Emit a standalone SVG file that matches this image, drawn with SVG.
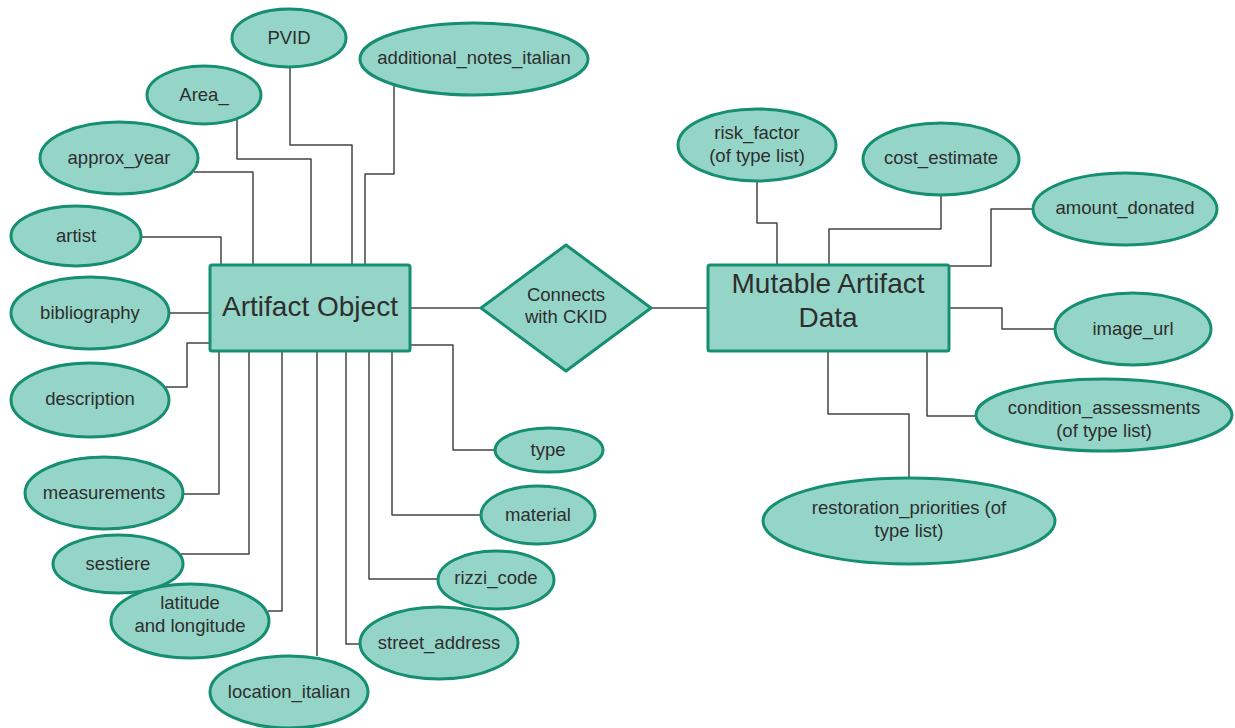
<svg xmlns="http://www.w3.org/2000/svg" width="1235" height="728" viewBox="0 0 1235 728">
<style>
.n{fill:#95d5c8;stroke:#168f70;stroke-width:3}
.t{font-family:"Liberation Sans",Arial,sans-serif;font-size:18.5px;fill:#2e2e2e;text-anchor:middle;dominant-baseline:central}
.big{font-size:28px}
.c{fill:none;stroke:#444;stroke-width:1.5;stroke-linejoin:round}
</style>
<rect width="1235" height="728" fill="#fff"/>
<g id="connectors">
<polyline class="c" points="237,118 237,159 311,159 311,265"/>
<polyline class="c" points="290,67 290,145 352,145 352,265"/>
<polyline class="c" points="394,86 394,174 365,174 365,265"/>
<polyline class="c" points="194,172 253,172 253,265"/>
<polyline class="c" points="141,237 221,237 221,265"/>
<polyline class="c" points="170,313 210,313"/>
<polyline class="c" points="165,387 187,387 187,343 210,343"/>
<polyline class="c" points="183,494 219,494 219,351"/>
<polyline class="c" points="181,554 249,554 249,351"/>
<polyline class="c" points="268,611 282,611 282,351"/>
<polyline class="c" points="317,351 317,656"/>
<polyline class="c" points="346,351 346,644 360,644"/>
<polyline class="c" points="369,351 369,579 438,579"/>
<polyline class="c" points="392,351 392,515 481,515"/>
<polyline class="c" points="410,345 453,345 453,450 495,450"/>
<polyline class="c" points="410,308 481,308"/>
<polyline class="c" points="651,308 708,308"/>
<polyline class="c" points="757,181 757,223 777,223 777,265"/>
<polyline class="c" points="941,195 941,229 829,229 829,265"/>
<polyline class="c" points="1033,209 991,209 991,266 949,266"/>
<polyline class="c" points="949,308 1002,308 1002,329 1054,329"/>
<polyline class="c" points="927,351 927,416 976,416"/>
<polyline class="c" points="828,351 828,414 909,414 909,478"/>
</g>
<g id="artifact_object"><rect class="n" x="210" y="265" width="200" height="86" rx="2"/><text class="t big" x="310" y="306">Artifact Object</text></g>
<g id="connects"><polygon class="n" points="566,245 651,308 566,371 481,308" stroke-linejoin="round"/><text class="t" x="566" y="294">Connects</text><text class="t" x="566" y="316">with CKID</text></g>
<g id="mutable_artifact_data"><rect class="n" x="708" y="265" width="241" height="86" rx="2"/><text class="t big" x="828" y="283">Mutable Artifact</text><text class="t big" x="828" y="317">Data</text></g>
<g id="pvid"><ellipse class="n" cx="289" cy="38" rx="57" ry="29"/><text class="t" x="289" y="37">PVID</text></g>
<g id="additional_notes_italian"><ellipse class="n" cx="474" cy="59" rx="114" ry="36"/><text class="t" x="474" y="57">additional_notes_italian</text></g>
<g id="area"><ellipse class="n" cx="204" cy="95" rx="57" ry="29"/><text class="t" x="204" y="94">Area_</text></g>
<g id="approx_year"><ellipse class="n" cx="119" cy="158" rx="79" ry="36"/><text class="t" x="119" y="157">approx_year</text></g>
<g id="artist"><ellipse class="n" cx="76" cy="236" rx="65" ry="30"/><text class="t" x="76" y="235">artist</text></g>
<g id="bibliography"><ellipse class="n" cx="90" cy="313" rx="79" ry="36"/><text class="t" x="90" y="312">bibliography</text></g>
<g id="description"><ellipse class="n" cx="90" cy="400" rx="79" ry="37"/><text class="t" x="90" y="398">description</text></g>
<g id="measurements"><ellipse class="n" cx="104" cy="493" rx="79" ry="36"/><text class="t" x="104" y="492">measurements</text></g>
<g id="sestiere"><ellipse class="n" cx="118" cy="564" rx="65" ry="29"/><text class="t" x="118" y="563">sestiere</text></g>
<g id="latitude_longitude"><ellipse class="n" cx="190" cy="621" rx="79" ry="37"/><text class="t" x="190" y="602">latitude</text><text class="t" x="190" y="625">and longitude</text></g>
<g id="location_italian"><ellipse class="n" cx="289" cy="692" rx="79" ry="36"/><text class="t" x="289" y="691">location_italian</text></g>
<g id="street_address"><ellipse class="n" cx="439" cy="643" rx="79" ry="36"/><text class="t" x="439" y="642">street_address</text></g>
<g id="rizzi_code"><ellipse class="n" cx="496" cy="580" rx="58" ry="29"/><text class="t" x="496" y="577">rizzi_code</text></g>
<g id="material"><ellipse class="n" cx="538" cy="515" rx="57" ry="29"/><text class="t" x="538" y="514">material</text></g>
<g id="type"><ellipse class="n" cx="549" cy="450" rx="54" ry="22"/><text class="t" x="548" y="449">type</text></g>
<g id="risk_factor"><ellipse class="n" cx="757" cy="145" rx="79" ry="36"/><text class="t" x="757" y="132">risk_factor</text><text class="t" x="757" y="155">(of type list)</text></g>
<g id="cost_estimate"><ellipse class="n" cx="941" cy="159" rx="78" ry="36"/><text class="t" x="941" y="157">cost_estimate</text></g>
<g id="amount_donated"><ellipse class="n" cx="1125" cy="209" rx="92" ry="36"/><text class="t" x="1125" y="207">amount_donated</text></g>
<g id="image_url"><ellipse class="n" cx="1133" cy="329" rx="78" ry="36"/><text class="t" x="1133" y="328">image_url</text></g>
<g id="condition_assessments"><ellipse class="n" cx="1104" cy="415" rx="128" ry="36"/><text class="t" x="1104" y="407">condition_assessments</text><text class="t" x="1104" y="430">(of type list)</text></g>
<g id="restoration_priorities"><ellipse class="n" cx="909" cy="521" rx="146" ry="43"/><text class="t" x="909" y="507">restoration_priorities (of</text><text class="t" x="909" y="530">type list)</text></g>
</svg>
